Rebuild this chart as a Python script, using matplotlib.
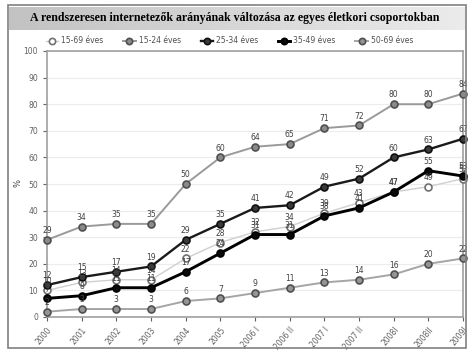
import matplotlib
matplotlib.use("Agg")
import matplotlib.pyplot as plt
from matplotlib.patches import Rectangle
import numpy as np

periods = ["2000", "2001", "2002", "2003", "2004", "2005", "2006 I", "2006 II",
           "2007 I", "2007 II", "2008I", "2008II", "2009I"]

age_15_69 = [10, 13, 14, 14, 22, 28, 32, 34, 39, 43, 47, 49, 52]
age_15_24 = [29, 34, 35, 35, 50, 60, 64, 65, 71, 72, 80, 80, 84]
age_25_34 = [12, 15, 17, 19, 29, 35, 41, 42, 49, 52, 60, 63, 67]
age_35_49 = [7, 8, 11, 11, 17, 24, 31, 31, 38, 41, 47, 55, 53]
age_50_69 = [2, 3, 3, 3, 6, 7, 9, 11, 13, 14, 16, 20, 22]

W, H = 470, 350
fig = plt.figure(figsize=(W / 100, H / 100), dpi=100)
fig.patch.set_facecolor("white")

# outer frame and title band
fig.patches.append(Rectangle((8 / W, 2 / H), 458 / W, 343 / H, transform=fig.transFigure,
                             fill=False, edgecolor="#808080", linewidth=1.2))
grad = np.linspace(0.76, 0.92, 256).reshape(1, -1)
band = fig.add_axes([9 / W, (H - 30) / H, 456 / W, 23 / H])
band.imshow(grad, aspect="auto", cmap="gray", vmin=0, vmax=1, extent=[0, 1, 0, 1])
band.axis("off")
fig.text(0.5, (H - 18) / H, "A rendszeresen internetezők arányának változása az egyes életkori csoportokban",
         ha="center", va="center", fontsize=8.6, fontweight="bold", family="Liberation Serif")

ax = fig.add_axes([47 / W, (H - 317) / H, (463 - 47) / W, (317 - 51) / H])
x = np.arange(len(periods))

series = [
    ("15-69 éves", age_15_69, "#cfcfcf", 1.0, "white", "#707070"),
    ("15-24 éves", age_15_24, "#9a9a9a", 1.4, "#8a8a8a", "#505050"),
    ("25-34 éves", age_25_34, "#1a1a1a", 1.7, "#3a3a3a", "#101010"),
    ("35-49 éves", age_35_49, "#000000", 2.1, "#0a0a0a", "#000000"),
    ("50-69 éves", age_50_69, "#a5a5a5", 1.4, "#959595", "#505050"),
]

for name, vals, lc, lw, mfc, mec in series:
    ax.plot(x, vals, color=lc, linewidth=lw, marker="o", markersize=5,
            markerfacecolor=mfc, markeredgecolor=mec, markeredgewidth=1.2,
            label=name, clip_on=False, zorder=3)
    for xi, v in zip(x, vals):
        ax.text(xi, v + 1.8, str(v), ha="center", va="bottom", fontsize=5.5,
                color="#404040", zorder=4)

ax.set_xlim(0, len(periods) - 1)
ax.set_ylim(0, 100)
ax.set_yticks(range(0, 101, 10))
ax.set_xticks(x)
ax.set_xticklabels(periods, rotation=50, ha="right", rotation_mode="anchor")
ax.tick_params(axis="both", labelsize=5.5, colors="#606060", length=3, width=0.8)
ax.tick_params(axis="x", pad=3)
ax.grid(axis="y", color="#ececec", linewidth=0.8)
ax.set_axisbelow(True)
for s in ax.spines.values():
    s.set_color("#a0a0a0")
    s.set_linewidth(1.2)

fig.text(18 / W, (H - 183) / H, "%", rotation=90, ha="center", va="center", fontsize=6, color="#404040")

ax.legend(loc="lower left", bbox_to_anchor=(-0.01, 1.01), ncol=5, frameon=False,
          fontsize=5.5, handlelength=1.6, columnspacing=2.6, handletextpad=0.4,
          borderaxespad=0, markerscale=0.9, labelcolor="#505050")

fig.savefig("out.png", dpi=100)
